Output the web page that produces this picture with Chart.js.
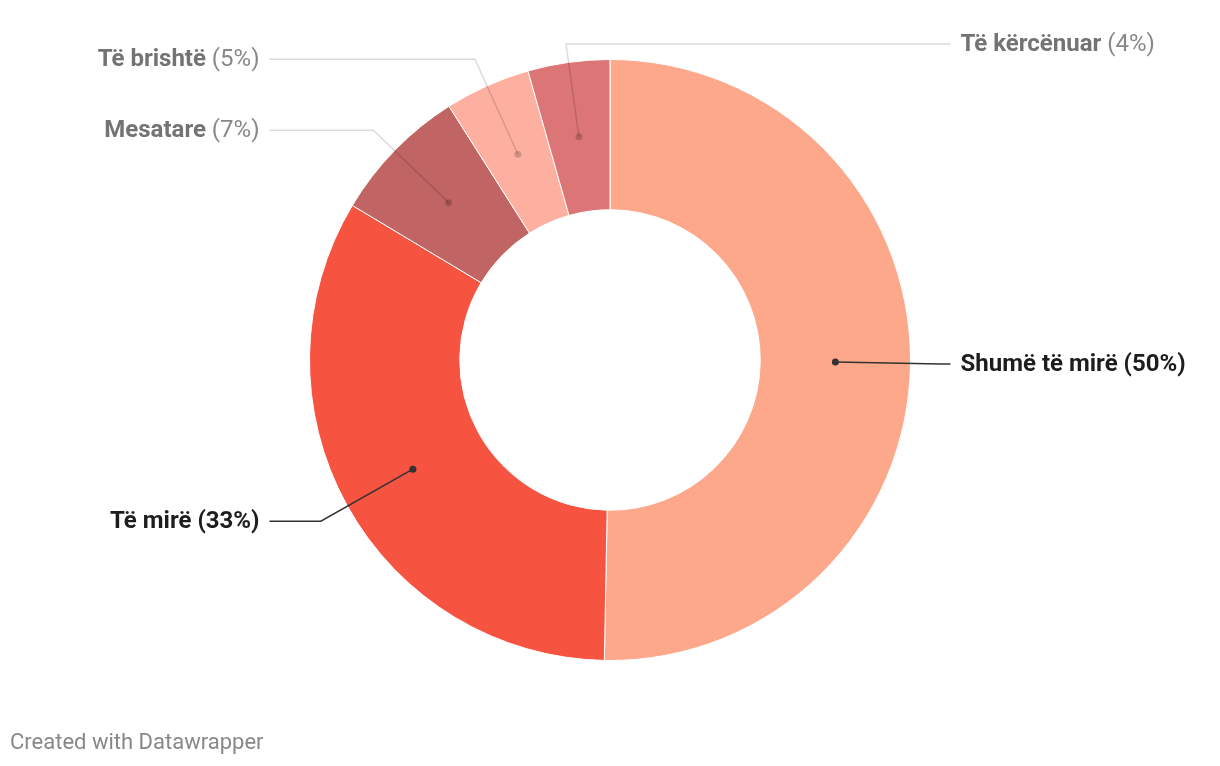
<!DOCTYPE html>
<html>
<head>
<meta charset="utf-8">
<script src="https://cdn.jsdelivr.net/npm/chart.js@4"></script>
<style>
  html, body { margin: 0; padding: 0; background: #fff; }
  #wrap { position: relative; width: 1220px; height: 766px; }
  #footer {
    position: absolute; left: 10px; top: 729px;
    font-family: Roboto, sans-serif; font-size: 22px; color: #888;
  }
</style>
</head>
<body>
<div id="wrap">
  <canvas id="donut" width="1220" height="766"></canvas>
  <div id="footer">Created with Datawrapper</div>
</div>
<script>
const categories = ['Shumë të mirë', 'Të mirë', 'Mesatare', 'Të brishtë', 'Të kërcënuar'];
const shares = [50.3, 33.3, 7.4, 4.6, 4.4];
const colors = ['#fda88a', '#f65341', '#c06563', '#feb0a0', '#dc7575'];

// draws the outside labels with leader lines, datawrapper style
const leaderLabels = {
    id: 'leaderLabels',
    afterDatasetsDraw(chart) {
        const ctx = chart.ctx;
        const meta = chart.getDatasetMeta(0);
        const top = chart.chartArea.top;
        ctx.save();
        meta.data.forEach((arc, i) => {
            const mid = (arc.startAngle + arc.endAngle) / 2;
            const cx = arc.x, cy = arc.y;
            const outer = arc.outerRadius;
            const rDot = (arc.innerRadius + outer) / 2;
            const dx = cx + Math.cos(mid) * rDot;
            const dy = cy + Math.sin(mid) * rDot;
            const r2 = outer * 1.1;
            let ey = cy + Math.sin(mid) * r2 + 1;
            let ex = cx + Math.cos(mid) * r2;
            if (ey < top - 15) {
                ey = top - 15;
                ex = cx + Math.cos(mid) * (cy - ey) / -Math.sin(mid);
            }
            // slices right at the top go to the right side, the left one is crowded
            const nearTop = Math.abs(Math.cos(mid)) < 0.2 && Math.sin(mid) < 0;
            const right = Math.cos(mid) >= 0 || nearTop;
            const lineEnd = right ? cx + outer + 40 : cx - outer - 40;
            const strong = shares[i] >= 10;

            ctx.strokeStyle = strong ? '#333' : 'rgba(0,0,0,0.14)';
            ctx.lineWidth = 1.5;
            ctx.beginPath();
            ctx.moveTo(dx, dy);
            ctx.lineTo(ex, ey);
            ctx.lineTo(lineEnd, ey);
            ctx.stroke();

            ctx.fillStyle = strong ? '#333' : 'rgba(0,0,0,0.18)';
            ctx.beginPath();
            ctx.arc(dx, dy, 3.5, 0, Math.PI * 2);
            ctx.fill();

            const name = categories[i];
            const pct = ' (' + Math.round(shares[i]) + '%)';
            ctx.textBaseline = 'middle';
            ctx.textAlign = 'left';
            const boldFont = 'bold 24px Roboto';
            const pctFont = strong ? boldFont : '24px Roboto';
            ctx.font = boldFont;
            const w1 = ctx.measureText(name).width;
            ctx.font = pctFont;
            const w2 = ctx.measureText(pct).width;
            const tx = right ? lineEnd + 10 : lineEnd - 10 - w1 - w2;
            ctx.font = boldFont;
            ctx.fillStyle = strong ? '#1d1d1d' : '#737373';
            ctx.fillText(name, tx, ey + 1);
            ctx.font = pctFont;
            ctx.fillStyle = strong ? '#1d1d1d' : '#888';
            ctx.fillText(pct, tx + w1, ey + 1);
        });
        ctx.restore();
    }
};

new Chart(document.getElementById('donut'), {
    type: 'doughnut',
    data: {
        labels: categories,
        datasets: [{
            data: shares,
            backgroundColor: colors,
            borderColor: '#fff',
            borderWidth: 1,
            hoverOffset: 0
        }]
    },
    options: {
        responsive: false,
        animation: false,
        cutout: '50%',
        layout: { padding: { top: 59, bottom: 105 } },
        plugins: {
            legend: { display: false },
            tooltip: { enabled: false }
        }
    },
    plugins: [leaderLabels]
});
</script>
</body>
</html>
